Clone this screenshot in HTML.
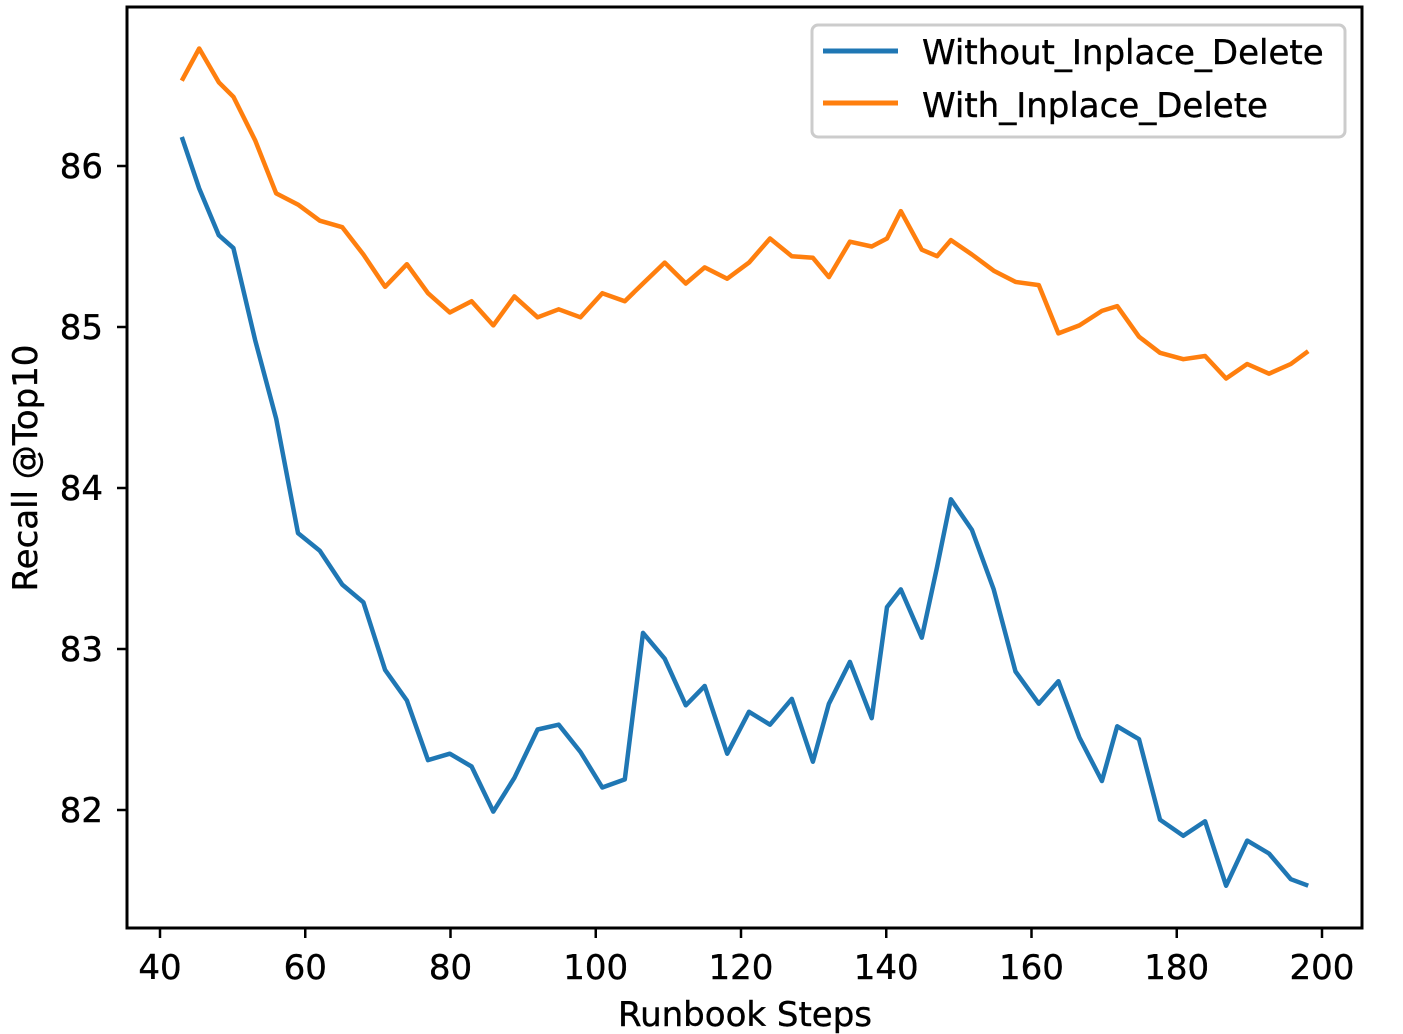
<!DOCTYPE html>
<html><head><meta charset="utf-8"><style>
html,body{margin:0;padding:0;background:#fff;}
svg{display:block;font-family:"DejaVu Sans","Liberation Sans",sans-serif;}
text{stroke:#000;stroke-width:0.4;}
</style></head><body>
<svg id="chart" width="1403" height="1034" viewBox="0 0 1403 1034">
<g id="series"></g>
<rect x="127" y="7" width="1235" height="921" fill="none" stroke="#000" stroke-width="3"/>
<g id="xticks"></g>
<g id="yticks"></g>
<text x="745" y="1026" font-size="34" text-anchor="middle">Runbook Steps</text>
<text transform="translate(37,468) rotate(-90)" font-size="34" text-anchor="middle">Recall @Top10</text>
<g>
<rect x="812" y="25" width="533" height="112" rx="6" fill="#fff" fill-opacity="0.8" stroke="#ccc" stroke-width="3"/>
<line x1="823" y1="51" x2="898" y2="51" stroke="#1f77b4" stroke-width="5"/>
<text x="922" y="64" font-size="34">Without_Inplace_Delete</text>
<line x1="823" y1="103" x2="898" y2="103" stroke="#ff7f0e" stroke-width="5"/>
<text x="922" y="117" font-size="34">With_Inplace_Delete</text>
</g>
</svg>
<script>
const steps=[43.0,45.4,48.1,50.1,53.1,56.0,59.0,62.0,65.1,68.0,71.0,74.0,76.9,79.9,82.9,85.9,88.8,92.0,94.9,97.9,100.9,104.0,106.5,109.5,112.4,115.0,118.1,121.1,124.0,127.0,129.9,132.1,135.0,138.0,140.1,142.0,144.9,147.0,148.9,151.8,154.8,157.8,161.0,163.7,166.6,169.7,171.8,174.8,177.7,180.9,183.9,186.8,189.7,192.7,195.7,198.1];
const withInplace=[86.53,86.73,86.52,86.43,86.16,85.83,85.76,85.66,85.62,85.45,85.25,85.39,85.21,85.09,85.16,85.01,85.19,85.06,85.11,85.06,85.21,85.16,85.27,85.40,85.27,85.37,85.30,85.40,85.55,85.44,85.43,85.31,85.53,85.50,85.55,85.72,85.48,85.44,85.54,85.45,85.35,85.28,85.26,84.96,85.01,85.10,85.13,84.94,84.84,84.80,84.82,84.68,84.77,84.71,84.77,84.85];
const withoutInplace=[86.18,85.86,85.57,85.49,84.92,84.43,83.72,83.61,83.40,83.29,82.87,82.68,82.31,82.35,82.27,81.99,82.20,82.50,82.53,82.36,82.14,82.19,83.10,82.94,82.65,82.77,82.35,82.61,82.53,82.69,82.30,82.66,82.92,82.57,83.26,83.37,83.07,83.51,83.93,83.74,83.37,82.86,82.66,82.80,82.45,82.18,82.52,82.44,81.94,81.84,81.93,81.53,81.81,81.73,81.57,81.53];
const xTickLabels=[40,60,80,100,120,140,160,180,200];
const yTickLabels=[82,83,84,85,86];
const NS="http://www.w3.org/2000/svg";
function xs(v){return 160+(v-40)*(1322-160)/160;}
function ys(v){return 166+(86-v)*161;}
const xt=document.getElementById('xticks');
xTickLabels.forEach(t=>{
 const l=document.createElementNS(NS,'line');
 l.setAttribute('x1',xs(t));l.setAttribute('x2',xs(t));l.setAttribute('y1',928);l.setAttribute('y2',938);
 l.setAttribute('stroke','#000');l.setAttribute('stroke-width','2.5');
 
 
 xt.appendChild(l);
 const tx=document.createElementNS(NS,'text');
 tx.setAttribute('x',xs(t));tx.setAttribute('y',979);tx.setAttribute('font-size','34');tx.setAttribute('text-anchor','middle');
 tx.textContent=t;
 
 
 xt.appendChild(tx);
});
const yt=document.getElementById('yticks');
yTickLabels.forEach(t=>{
 const l=document.createElementNS(NS,'line');
 l.setAttribute('x1',117);l.setAttribute('x2',127);l.setAttribute('y1',ys(t));l.setAttribute('y2',ys(t));
 l.setAttribute('stroke','#000');l.setAttribute('stroke-width','2.5');
 
 
 yt.appendChild(l);
 const tx=document.createElementNS(NS,'text');
 tx.setAttribute('x',103);tx.setAttribute('y',ys(t)+12);tx.setAttribute('font-size','34');tx.setAttribute('text-anchor','end');
 tx.textContent=t;
 
 
 yt.appendChild(tx);
});
const sg=document.getElementById('series');
function line(vals,color,name){
 const p=document.createElementNS(NS,'polyline');
 p.setAttribute('points',vals.map((v,i)=>xs(steps[i]).toFixed(1)+','+ys(v).toFixed(1)).join(' '));
 p.setAttribute('fill','none');p.setAttribute('stroke',color);p.setAttribute('stroke-width','4.5');p.setAttribute('stroke-linejoin','round');
 
 
 sg.appendChild(p);
}
line(withoutInplace,'#1f77b4','line-without-inplace-delete');
line(withInplace,'#ff7f0e','line-with-inplace-delete');
</script>
</body></html>
